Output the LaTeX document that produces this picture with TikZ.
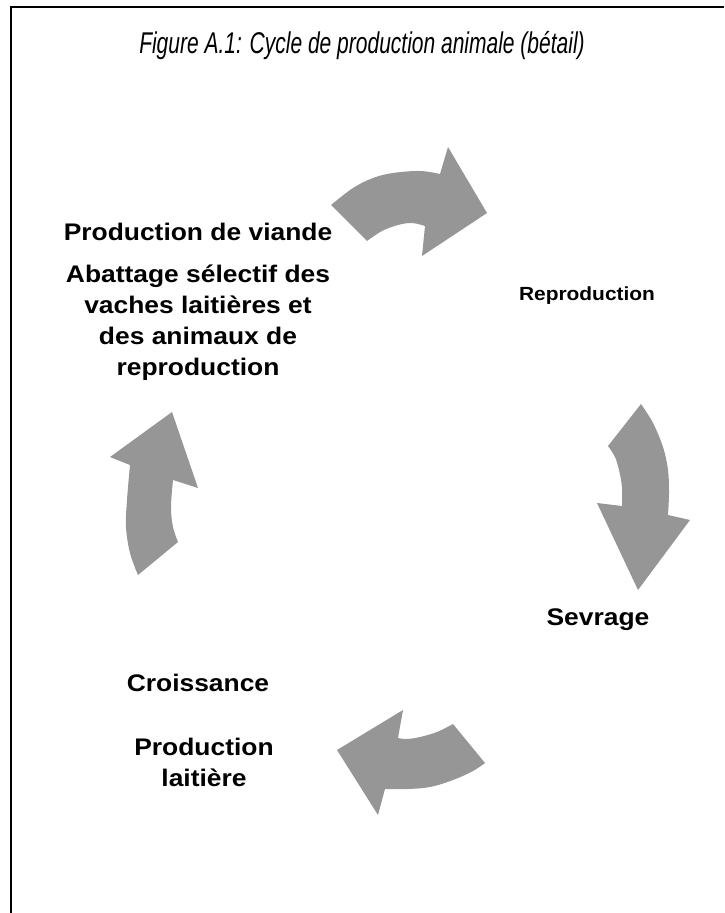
\documentclass[tikz,border=0pt]{standalone}
\usepackage{fontspec}
\setmainfont{Liberation Sans}
\newfontfamily\labfont[FakeStretch=1.1]{Liberation Sans}
\newfontfamily\titlefont[FakeStretch=0.70]{Liberation Sans}
\definecolor{arrowgray}{RGB}{150,150,150}
\tikzset{
  lab/.style={font=\labfont\bfseries\fontsize{24}{31}\selectfont, align=center, inner sep=0pt, text=black},
  labsmall/.style={font=\labfont\bfseries\fontsize{19}{24}\selectfont, align=center, inner sep=0pt, text=black},
  cyclearrow/.style={fill=arrowgray, draw=none},
  frame/.style={draw=black, line width=2pt}
}
\begin{document}
\begin{tikzpicture}[x=1pt,y=-1pt]
\useasboundingbox (0,0) rectangle (724,913);
% frame
\draw[frame] (11,913) -- (11,7) -- (724,7);
% title
\node[font=\titlefont\itshape\fontsize{30}{34}\selectfont, inner sep=0pt] (title) at (362,46) {Figure A.1: Cycle de production animale (bétail)};
% labels
\node[lab] (viande) at (198,232) {Production de viande};
\node[lab] (abattage) at (198,323) {Abattage sélectif des\\vaches laitières et\\des animaux de\\reproduction};
\node[labsmall] (repro) at (587,296) {Reproduction};
\node[lab] (sevrage) at (598,620) {Sevrage};
\node[lab] (croiss) at (198,683) {Croissance};
\node[lab] (lait) at (204,762) {Production\\laitière};
% top arrow
\path[cyclearrow] (331,205) -- plot[smooth, tension=0.6] coordinates {(331,205) (353,188) (373,178) (393,173) (420,171) (440,174)}
  -- (448,147) -- (487,213) -- (422,256) -- (425,226)
  -- plot[smooth, tension=0.6] coordinates {(425,226) (412,223) (398,225) (382,231) (367,241)} -- cycle;
% right arrow
\path[cyclearrow] (641,404) -- plot[smooth, tension=0.6] coordinates {(641,404) (653,423) (663,447) (668,470) (669,493) (668,515)}
  -- (690,520) -- (638,590) -- (597,503) -- (622,506)
  -- plot[smooth, tension=0.6] coordinates {(622,506) (622,487) (619,470) (615,457) (608,446)} -- cycle;
% bottom arrow
\path[cyclearrow] (485,763) -- plot[smooth, tension=0.6] coordinates {(485,763) (473,771) (453,780) (430,787) (407,789) (385,789)}
  -- (378,815) -- (337,750) -- (403,710) -- (398,738)
  -- plot[smooth, tension=0.6] coordinates {(398,738) (407,739) (420,737) (437,732) (453,724)} -- cycle;
% left arrow
\path[cyclearrow] (138,575) -- plot[smooth, tension=0.6] coordinates {(138,575) (130,553) (126,527) (127,500) (130,465)}
  -- (110,457) -- (172,412) -- (198,488) -- (173,480)
  -- plot[smooth, tension=0.6] coordinates {(173,480) (171,507) (173,527) (178,542)} -- cycle;
\end{tikzpicture}
\end{document}
